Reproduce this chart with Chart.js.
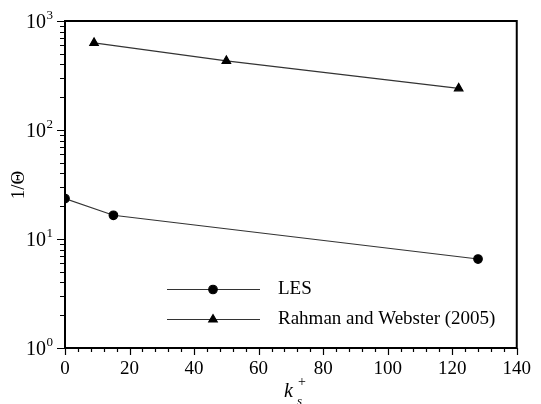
<!DOCTYPE html>
<html>
<head>
<meta charset="utf-8">
<script src="https://cdn.jsdelivr.net/npm/chart.js@4.4.1/dist/chart.umd.min.js"></script>
<style>
	body { margin: 0; background: #fff; }
	canvas { display: block; }
</style>
</head>
<body>
<canvas id="myChart" width="541" height="404"></canvas>
<script>
const lesLabel = "LES";
const lesX = [0, 15, 128];
const lesY = [23.5, 16.5, 6.55];

const rahmanLabel = "Rahman and Webster (2005)";
const rahmanX = [9, 50, 122];
const rahmanY = [630, 431, 241];

const xTicks = [0, 20, 40, 60, 80, 100, 120, 140];
const yDecades = [1, 10, 100, 1000];
const yExponents = ["0", "1", "2", "3"];

const fontFamily = "'Liberation Serif', 'Times New Roman', serif";

function toPoints(xs, ys)
{
	let points = [];
	for (let i = 0; i < xs.length; i++)
		points.push({ x: xs[i], y: ys[i] });
	return points;
}

// frame, tick marks, y tick labels, axis titles and the legend box
const decorations = {
	id: 'decorations',
	afterDraw(chart)
	{
		const ctx = chart.ctx;
		const area = chart.chartArea;
		const xs = chart.scales.x;
		const ys = chart.scales.y;

		ctx.save();
		ctx.strokeStyle = '#000';
		ctx.lineWidth = 1.2;
		ctx.beginPath();
		for (let v = 0; v <= 140; v += 4)
		{
			const px = Math.round(xs.getPixelForValue(v)) + 0.5;
			const len = (v % 20 === 0) ? 7 : 4;
			ctx.moveTo(px, area.bottom);
			ctx.lineTo(px, area.bottom + len);
		}
		for (let d = 0; d < yDecades.length; d++)
		{
			const base = yDecades[d];
			const last = (d === yDecades.length - 1) ? 1 : 9;
			for (let m = 1; m <= last; m++)
			{
				const py = Math.round(ys.getPixelForValue(base * m)) + 0.5;
				const len = (m === 1) ? 8 : 5;
				ctx.moveTo(area.left, py);
				ctx.lineTo(area.left - len, py);
			}
		}
		ctx.stroke();

		ctx.lineWidth = 2;
		ctx.strokeRect(area.left, area.top, area.right - area.left, area.bottom - area.top);

		// y tick labels: 10 with a raised exponent
		ctx.fillStyle = '#000';
		for (let d = 0; d < yDecades.length; d++)
		{
			const py = ys.getPixelForValue(yDecades[d]);
			ctx.font = "20px " + fontFamily;
			ctx.textAlign = 'right';
			ctx.textBaseline = 'middle';
			ctx.fillText("10", 46, py + 1.5);
			ctx.font = "13px " + fontFamily;
			ctx.textAlign = 'left';
			ctx.textBaseline = 'alphabetic';
			ctx.fillText(yExponents[d], 46.5, py - 2);
		}

		// y title
		ctx.save();
		ctx.translate(19, 185);
		ctx.rotate(-Math.PI / 2);
		ctx.font = "19px " + fontFamily;
		ctx.textAlign = 'center';
		ctx.textBaseline = 'middle';
		ctx.fillText("1/\u0398", 0, 0);
		ctx.restore();

		// x title
		ctx.textAlign = 'left';
		ctx.textBaseline = 'alphabetic';
		ctx.font = "italic 20px " + fontFamily;
		ctx.fillText("k", 284, 397);
		ctx.font = "italic 13px " + fontFamily;
		ctx.fillText("s", 297, 405);
		ctx.font = "14px " + fontFamily;
		ctx.fillText("+", 298, 386);

		// legend
		const rows = [
			{ ds: chart.data.datasets[0], y: 289 },
			{ ds: chart.data.datasets[1], y: 319 }
		];
		for (const row of rows)
		{
			ctx.strokeStyle = row.ds.borderColor;
			ctx.lineWidth = row.ds.borderWidth;
			ctx.beginPath();
			ctx.moveTo(167, row.y + 0.5);
			ctx.lineTo(260, row.y + 0.5);
			ctx.stroke();
			ctx.fillStyle = row.ds.pointBackgroundColor;
			ctx.strokeStyle = row.ds.pointBorderColor;
			Chart.helpers.drawPoint(ctx, {
				pointStyle: row.ds.pointStyle,
				radius: row.ds.pointRadius,
				rotation: 0,
				borderWidth: 1
			}, 213, row.y + 0.5);
			ctx.fillStyle = '#000';
			ctx.font = "19px " + fontFamily;
			ctx.textBaseline = 'middle';
			ctx.fillText(row.ds.label, 278, row.y);
		}
		ctx.restore();
	}
};

const ctx = document.getElementById('myChart').getContext('2d');
const myChart = new Chart(ctx, {
	type: 'line',
	data: {
		datasets: [
			{
				label: lesLabel,
				data: toPoints(lesX, lesY),
				borderColor: '#333',
				borderWidth: 1.1,
				pointStyle: 'circle',
				pointRadius: 4.3,
				pointBackgroundColor: '#000',
				pointBorderColor: '#000',
				tension: 0
			},
			{
				label: rahmanLabel,
				data: toPoints(rahmanX, rahmanY),
				borderColor: '#333',
				borderWidth: 1.1,
				pointStyle: 'triangle',
				pointRadius: 5,
				pointBackgroundColor: '#000',
				pointBorderColor: '#000',
				tension: 0
			}
		]
	},
	options: {
		responsive: false,
		animation: false,
		layout: {
			padding: { top: 21, right: 15, left: 0, bottom: 0 }
		},
		plugins: {
			legend: { display: false },
			tooltip: { enabled: false }
		},
		scales: {
			x: {
				type: 'linear',
				min: 0,
				max: 140,
				afterBuildTicks: (scale) => {
					scale.ticks = xTicks.map(v => ({ value: v }));
				},
				afterFit: (scale) => {
					scale.height = 56;
				},
				grid: { display: false, drawTicks: false },
				border: { display: false },
				ticks: {
					color: '#000',
					padding: 10,
					maxRotation: 0,
					autoSkip: false,
					font: { family: fontFamily, size: 19 }
				}
			},
			y: {
				type: 'logarithmic',
				min: 1,
				max: 1000,
				afterBuildTicks: (scale) => {
					scale.ticks = yDecades.map(v => ({ value: v }));
				},
				afterFit: (scale) => {
					scale.width = 65;
				},
				grid: { display: false, drawTicks: false },
				border: { display: false },
				ticks: { display: false }
			}
		}
	},
	plugins: [decorations]
});
</script>
</body>
</html>
